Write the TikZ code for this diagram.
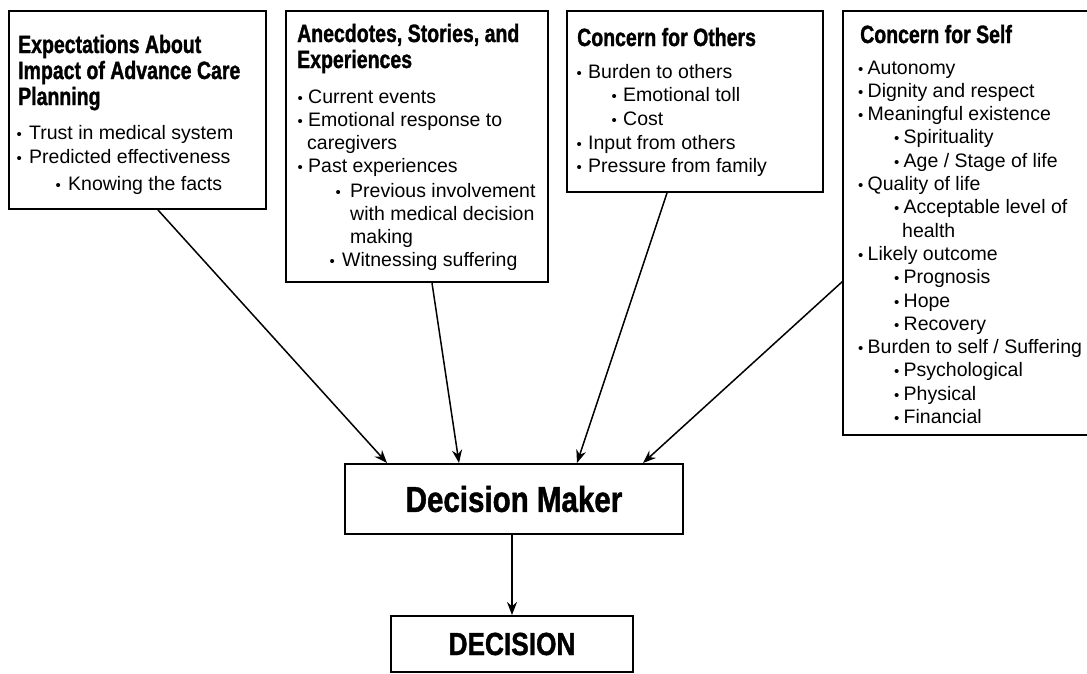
\documentclass[tikz,border=0pt]{standalone}
\usepackage{fontspec}
\setmainfont{Liberation Sans}
\newfontfamily\condfont{Liberation Sans Bold}[FakeStretch=0.82,FakeBold=1.2]
\newfontfamily\headfam{Liberation Sans Bold}[FakeStretch=0.78,FakeBold=1.2]
\usetikzlibrary{calc,arrows.meta}
\newcommand\hdfont{\headfam\fontsize{25}{26}\selectfont}
\newcommand\bdfont{\normalfont\fontsize{19.5}{23.3}\selectfont}
\newcommand\bul[1]{\makebox[#1][l]{\fontsize{15}{15}\selectfont •}}
\newcommand\Ln[2]{\hbox{\hskip#1\relax #2}}
\newcommand\bs[1]{\baselineskip=#1\relax}
\begin{document}
\begin{tikzpicture}[x=1pt,y=-1pt,
  box/.style={draw, line width=2pt, inner sep=0pt, anchor=north west},
  arr/.style={line width=1.5pt, -{Stealth[length=13pt,width=10pt]}},
  txt/.style={anchor=base west, inner sep=0pt}]
\useasboundingbox (0,0) rectangle (1087,673);

% boxes
\node[box, minimum width=257pt, minimum height=198pt] (b1) at (8,10) {};
\node[box, minimum width=262pt, minimum height=271pt] (b2) at (285,10) {};
\node[box, minimum width=256pt, minimum height=181pt] (b3) at (566,10) {};
\node[anchor=north west, inner sep=0pt, minimum width=246pt, minimum height=424pt] (b4) at (843,11) {};
\draw[line width=2pt] (b4.north east) -- (b4.north west) -- (b4.south west) -- (b4.south east);

\node[box, minimum width=338pt, minimum height=70pt,
  font={\condfont\fontsize{36}{40}\selectfont}] (dm) at (344,463) {Decision Maker};
\node[box, minimum width=242pt, minimum height=56pt,
  font={\condfont\fontsize{32}{36}\selectfont}] (dec) at (390,615) {DECISION};

% texts
\node[txt] (t1) at (18,53) {\vtop{\hdfont
  \Ln{0pt}{Expectations About}
  \Ln{0pt}{Impact of Advance Care}
  \Ln{0pt}{Planning}
  \bdfont\bs{34pt}
  \Ln{-1.5pt}{\bul{12.5pt}Trust in medical system}
  \bs{24pt}
  \Ln{-1.5pt}{\bul{12.5pt}Predicted effectiveness}
  \bs{27pt}
  \Ln{37.5pt}{\bul{12.5pt}Knowing the facts}}};

\node[txt] (t2) at (297,42) {\vtop{\hdfont
  \Ln{0pt}{Anecdotes, Stories, and}
  \Ln{0pt}{Experiences}
  \bdfont\bs{35pt}
  \Ln{0.5pt}{\bul{10.5pt}Current events}
  \bs{23.3pt}
  \Ln{0.5pt}{\bul{10.5pt}Emotional response to}
  \Ln{10pt}{caregivers}
  \Ln{0.5pt}{\bul{10.5pt}Past experiences}
  \bs{25pt}
  \Ln{38.5pt}{\bul{14.5pt}Previous involvement}
  \bs{22.7pt}
  \Ln{53pt}{with medical decision}
  \Ln{53pt}{making}
  \bs{23.5pt}
  \Ln{32.5pt}{\bul{12.5pt}Witnessing suffering}}};

\node[txt] (t3) at (577,46) {\vtop{\hdfont
  \Ln{0pt}{Concern for Others}
  \bdfont\bs{32pt}
  \Ln{-0.5pt}{\bul{11.5pt}Burden to others}
  \bs{23.7pt}
  \Ln{34.5pt}{\bul{11.5pt}Emotional toll}
  \Ln{34.5pt}{\bul{11.5pt}Cost}
  \Ln{-0.5pt}{\bul{11.5pt}Input from others}
  \Ln{-0.5pt}{\bul{11.5pt}Pressure from family}}};

\node[txt] (t4) at (860,43) {\vtop{\hdfont
  \Ln{0pt}{Concern for Self}
  \bdfont\bs{31pt}
  \Ln{-2pt}{\bul{9.5pt}Autonomy}
  \bs{23.3pt}
  \Ln{-2pt}{\bul{9.5pt}Dignity and respect}
  \Ln{-2pt}{\bul{9.5pt}Meaningful existence}
  \Ln{34pt}{\bul{9.5pt}Spirituality}
  \Ln{34pt}{\bul{9.5pt}Age / Stage of life}
  \Ln{-2pt}{\bul{9.5pt}Quality of life}
  \Ln{34pt}{\bul{9.5pt}Acceptable level of}
  \Ln{42pt}{health}
  \Ln{-2pt}{\bul{9.5pt}Likely outcome}
  \Ln{34pt}{\bul{9.5pt}Prognosis}
  \Ln{34pt}{\bul{9.5pt}Hope}
  \Ln{34pt}{\bul{9.5pt}Recovery}
  \Ln{-2pt}{\bul{9.5pt}Burden to self / Suffering}
  \Ln{34pt}{\bul{9.5pt}Psychological}
  \Ln{34pt}{\bul{9.5pt}Physical}
  \Ln{34pt}{\bul{9.5pt}Financial}}};

% connectors
\coordinate (s1) at ($(b1.south west)+(150,0)$);
\coordinate (e1) at ($(dm.north west)+(43,0)$);
\coordinate (s2) at ($(b2.south west)+(147,0)$);
\coordinate (e2) at ($(dm.north west)+(115,0)$);
\coordinate (s3) at ($(b3.south west)+(101,0)$);
\coordinate (e3) at ($(dm.north west)+(233,0)$);
\coordinate (s4) at ($(b4.north west)+(0,270)$);
\coordinate (e4) at ($(dm.north west)+(299,0)$);
\draw[arr] (s1) -- (e1);
\draw[arr] (s2) -- (e2);
\draw[arr] (s3) -- (e3);
\draw[arr] (s4) -- (e4);
\draw[arr] (dm.south -| dec.north) -- (dec.north);
\end{tikzpicture}
\end{document}
